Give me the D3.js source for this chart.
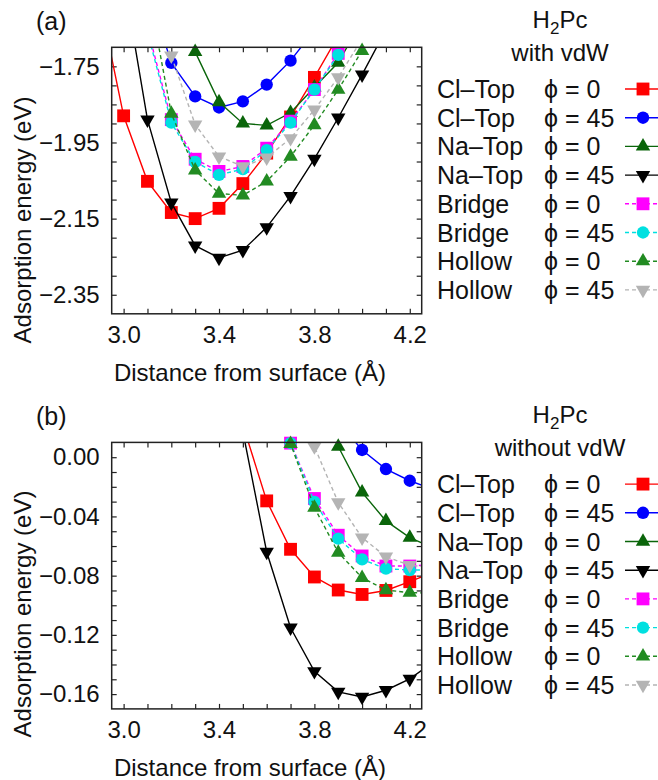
<!DOCTYPE html>
<html>
<head>
<meta charset="utf-8">
<script src="https://cdn.jsdelivr.net/npm/d3@7"></script>
<style>
  body { margin: 0; background: #fff; }
  svg text { font-family: "Liberation Sans", Arial, Helvetica, sans-serif; fill: #111; }
</style>
</head>
<body>
<div id="viz-container"></div>
<script>
// ---- data ----
// legend labels
const sites = ["Cl\u2013Top", "Cl\u2013Top", "Na\u2013Top", "Na\u2013Top", "Bridge", "Bridge", "Hollow", "Hollow"];
const phis = [0, 45, 0, 45, 0, 45, 0, 45];

// panel (a): with vdW, distances in Angstrom, energies in eV
const distA = [2.9, 3.0, 3.1, 3.2, 3.3, 3.4, 3.5, 3.6, 3.7, 3.8, 3.9, 4.0, 4.1];
const aClTop0   = [-1.576, -1.880, -2.052, -2.134, -2.150, -2.123, -2.058, -1.978, -1.883, -1.779, -1.67, null, null];
const aClTop45  = [null, null, -1.54, -1.741, -1.829, -1.858, -1.842, -1.798, -1.735, -1.655, null, null, null];
const aNaTop0   = [null, null, null, -1.55, -1.712, -1.844, -1.900, -1.905, -1.872, -1.805, -1.740, -1.63, null];
const aNaTop45  = [null, -1.52, -1.890, -2.108, -2.221, -2.253, -2.233, -2.173, -2.091, -1.993, -1.885, -1.772, -1.654];
const aBridge0  = [null, null, -1.65, -1.890, -1.994, -2.026, -2.013, -1.965, -1.894, -1.811, -1.716, -1.62, null];
const aBridge45 = [null, null, -1.66, -1.898, -2.001, -2.035, -2.020, -1.970, -1.898, -1.811, -1.720, -1.62, null];
const aHollow0  = [null, null, -1.54, -1.874, -2.023, -2.084, -2.089, -2.052, -1.987, -1.904, -1.811, -1.709, -1.60];
const aHollow45 = [null, null, -1.593, -1.722, -1.903, -1.987, -2.013, -1.990, -1.939, -1.864, -1.779, -1.678, null];

// panel (b): without vdW
const distB = [3.5, 3.6, 3.7, 3.8, 3.9, 4.0, 4.1, 4.2, 4.3];
const bClTop0   = [0.022, -0.0295, -0.0622, -0.0809, -0.0897, -0.0927, -0.0900, -0.0841, -0.0777];
const bClTop45  = [null, null, null, null, 0.024, 0.0049, -0.0080, -0.0159, -0.0217];
const bNaTop0   = [null, null, null, 0.04, 0.0072, -0.0238, -0.0430, -0.0543, -0.0613];
const bNaTop45  = [0.0173, -0.0640, -0.1152, -0.1446, -0.1585, -0.1619, -0.1574, -0.1497, -0.1383];
const bBridge0  = [null, 0.05, 0.0095, -0.0279, -0.0527, -0.0667, -0.0735, -0.0735, -0.0725];
const bBridge45 = [null, 0.05, 0.0095, -0.0302, -0.0550, -0.0690, -0.0753, -0.0762, -0.0762];
const bHollow0  = [null, 0.05, 0.009, -0.0340, -0.0644, -0.0814, -0.0897, -0.0915, -0.0918];
const bHollow45 = [null, null, 0.04, 0.0072, -0.0306, -0.0543, -0.0672, -0.0730, -0.0745];

// axis ticks
const xTicks = [3.0, 3.1, 3.2, 3.3, 3.4, 3.5, 3.6, 3.7, 3.8, 3.9, 4.0, 4.1, 4.2];
const xLabels = [3.0, 3.4, 3.8, 4.2];
const yTicksA = [-2.35, -2.30, -2.25, -2.20, -2.15, -2.10, -2.05, -2.00, -1.95, -1.90, -1.85, -1.80, -1.75];
const yLabelsA = [-2.35, -2.15, -1.95, -1.75];
const yTicksB = [-0.16, -0.15, -0.14, -0.13, -0.12, -0.11, -0.10, -0.09, -0.08, -0.07, -0.06, -0.05, -0.04, -0.03, -0.02, -0.01, 0.00];
const yLabelsB = [-0.16, -0.12, -0.08, -0.04, 0.00];

// ---- styles ----
const colors = ["#ff0000", "#0000ff", "#0a650a", "#000000", "#ff00ff", "#00e0e0", "#228b22", "#b4b4b4"];
const shapes = ["square", "circle", "up", "down", "square", "circle", "up", "down"];
const dashed = [false, false, false, false, true, true, true, true];

const W = 658, H = 780;
const svg = d3.select('#viz-container').append('svg')
    .attr('width', W).attr('height', H);

function markerPath(shape) {
    if (shape === 'square') return d3.symbol(d3.symbolSquare, 165)();
    if (shape === 'circle') return d3.symbol(d3.symbolCircle, 120)();
    return d3.symbol(d3.symbolTriangle, 90)();
}

function drawMarker(g, shape, color, x, y) {
    g.append('path')
        .attr('d', markerPath(shape))
        .attr('fill', color)
        .attr('transform', 'translate(' + x + ',' + y + ')' + (shape === 'down' ? ' rotate(180)' : ''));
}

function drawPanel({ id, top, dist, series, yDomain, yTicks, yLabels, letter, subtitle, yTitleY }) {
    const left = 111.7, right = 421.7, bottom = top + 266.5;

    const x = d3.scaleLinear().domain([2.95, 4.25]).range([left, right]);
    const y = d3.scaleLinear().domain(yDomain).range([bottom, top]);

    const g = svg.append('g').attr('id', id);

    g.append('clipPath').attr('id', 'clip-' + id)
        .append('rect')
        .attr('x', left).attr('y', top)
        .attr('width', right - left).attr('height', bottom - top);

    // inward ticks on all 4 sides
    const tickSides = [
        [d3.axisLeft(y).tickValues(yTicks), 'translate(' + left + ',0)'],
        [d3.axisRight(y).tickValues(yTicks), 'translate(' + right + ',0)'],
        [d3.axisBottom(x).tickValues(xTicks), 'translate(0,' + bottom + ')'],
        [d3.axisTop(x).tickValues(xTicks), 'translate(0,' + top + ')']
    ];
    tickSides.forEach(([ax, tr]) => {
        const a = g.append('g').attr('transform', tr)
            .call(ax.tickSize(-5).tickFormat(''));
        a.select('.domain').remove();
        a.selectAll('line').attr('stroke', '#222').attr('stroke-width', 1.2);
    });

    // tick labels
    const yl = g.append('g').attr('transform', 'translate(' + left + ',0)')
        .call(d3.axisLeft(y).tickValues(yLabels).tickSize(0).tickPadding(12).tickFormat(d3.format('.2f')));
    yl.select('.domain').remove();
    yl.selectAll('text').attr('font-size', 24).attr('font-family', null);

    const xl = g.append('g').attr('transform', 'translate(0,' + bottom + ')')
        .call(d3.axisBottom(x).tickValues(xLabels).tickSize(0).tickPadding(12).tickFormat(d3.format('.1f')));
    xl.select('.domain').remove();
    xl.selectAll('text').attr('font-size', 24).attr('font-family', null);

    // axis titles
    g.append('text')
        .attr('transform', 'translate(31,' + yTitleY + ') rotate(-90)')
        .attr('text-anchor', 'middle')
        .attr('font-size', 24)
        .text('Adsorption energy (eV)');
    g.append('text')
        .attr('x', 250).attr('y', bottom + 67)
        .attr('text-anchor', 'middle')
        .attr('font-size', 24)
        .text('Distance from surface (\u00c5)');

    g.append('text')
        .attr('x', 36).attr('y', top - 17)
        .attr('font-size', 25)
        .text(letter);

    // curves
    const line = d3.line()
        .defined(d => d.e !== null)
        .x(d => x(d.d))
        .y(d => y(d.e));

    const plot = g.append('g');
    series.forEach((vals, i) => {
        const pts = dist.map((d, k) => ({ d: d, e: vals[k] }));
        plot.append('path')
            .datum(pts)
            .attr('clip-path', 'url(#clip-' + id + ')')
            .attr('fill', 'none')
            .attr('stroke', colors[i])
            .attr('stroke-width', 1.4)
            .attr('stroke-dasharray', dashed[i] ? '4,3' : null)
            .attr('d', line);

        pts.filter(p => p.e !== null && p.e <= yDomain[1] && p.d >= 2.95 && p.d <= 4.25)
            .forEach(p => drawMarker(plot, shapes[i], colors[i], x(p.d), y(p.e)));
    });

    // frame
    g.append('rect')
        .attr('x', left).attr('y', top)
        .attr('width', right - left).attr('height', bottom - top)
        .attr('fill', 'none').attr('stroke', '#222').attr('stroke-width', 1.5);

    // legend
    const lg = g.append('g');
    const title = lg.append('text')
        .attr('x', 560).attr('y', top - 19)
        .attr('text-anchor', 'middle')
        .attr('font-size', 24);
    title.append('tspan').text('H');
    title.append('tspan').attr('font-size', 17).attr('dy', 6).text('2');
    title.append('tspan').attr('dy', -6).text('Pc');

    lg.append('text')
        .attr('x', 560).attr('y', top + 14)
        .attr('text-anchor', 'middle')
        .attr('font-size', 24)
        .text(subtitle);

    sites.forEach((s, i) => {
        const ry = top + 41.7 + i * 28.7;
        lg.append('text').attr('x', 437).attr('y', ry).attr('dy', '0.36em')
            .attr('font-size', 25).text(s);
        lg.append('text').attr('x', 544).attr('y', ry).attr('dy', '0.36em')
            .attr('font-size', 25).text('\u03d5 = ' + phis[i]);
        lg.append('line')
            .attr('x1', 625).attr('x2', 662).attr('y1', ry).attr('y2', ry)
            .attr('stroke', colors[i]).attr('stroke-width', 1.4)
            .attr('stroke-dasharray', dashed[i] ? '4,3' : null);
        drawMarker(lg, shapes[i], colors[i], 643, ry);
    });
}

drawPanel({
    id: 'a', top: 47.3, dist: distA,
    series: [aClTop0, aClTop45, aNaTop0, aNaTop45, aBridge0, aBridge45, aHollow0, aHollow45],
    yDomain: [-2.4, -1.7], yTicks: yTicksA, yLabels: yLabelsA,
    letter: '(a)', subtitle: 'with vdW', yTitleY: 220
});

drawPanel({
    id: 'b', top: 442.4, dist: distB,
    series: [bClTop0, bClTop45, bNaTop0, bNaTop45, bBridge0, bBridge45, bHollow0, bHollow45],
    yDomain: [-0.17, 0.01], yTicks: yTicksB, yLabels: yLabelsB,
    letter: '(b)', subtitle: 'without vdW', yTitleY: 614
});
</script>
</body>
</html>
